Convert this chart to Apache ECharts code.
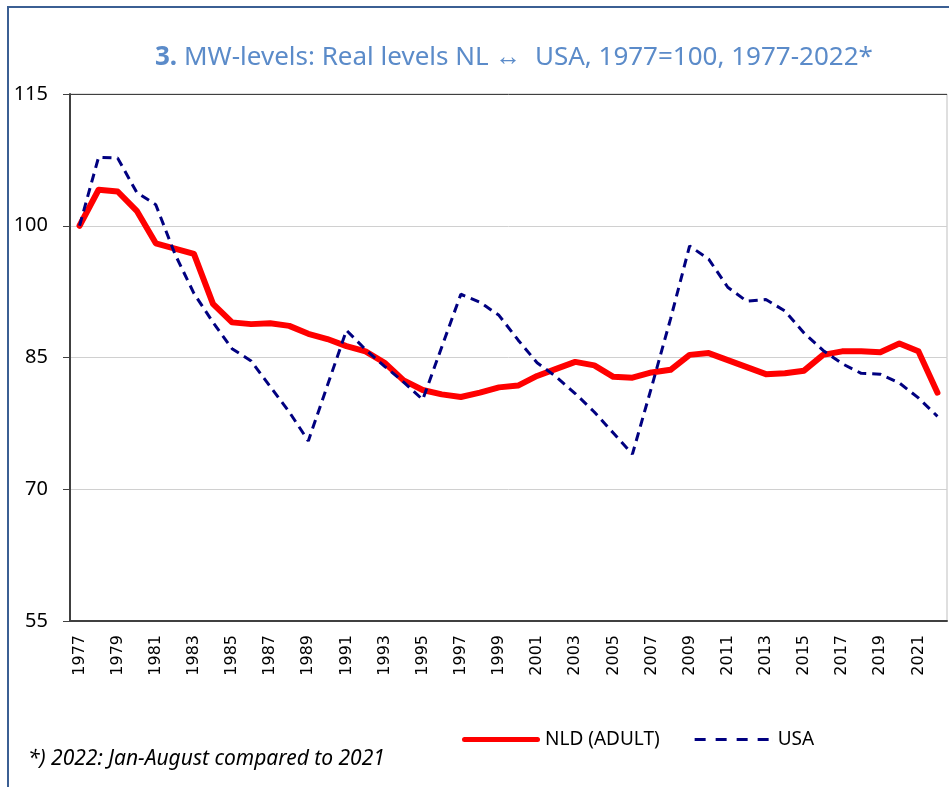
<!DOCTYPE html>
<html>
<head>
<meta charset="utf-8">
<title>MW-levels NL vs USA</title>
<script src="https://cdn.jsdelivr.net/npm/echarts@6/dist/echarts.min.js"></script>
<style>
  html, body { margin: 0; padding: 0; background: #fff; }
  #chart { width: 949px; height: 787px; }
</style>
</head>
<body>
<div id="chart"></div>
<script>
// data
const years = []
for (let y = 1977; y <= 2022; y++) years.push(String(y))

const nld = [
  100, 104.1, 103.9, 101.7, 98.0, 97.4, 96.8, 91.1, 89.0, 88.8,
  88.9, 88.6, 87.7, 87.1, 86.3, 85.7, 84.4, 82.4, 81.3, 80.8,
  80.5, 81.0, 81.6, 81.8, 82.9, 83.7, 84.5, 84.1, 82.8, 82.7,
  83.3, 83.6, 85.3, 85.5, 84.7, 83.9, 83.1, 83.2, 83.5, 85.3,
  85.7, 85.7, 85.6, 86.6, 85.7, 81.0
]
const usa = [
  100, 107.8, 107.7, 103.8, 102.4, 96.8, 92.3, 89.0, 86.0, 84.6,
  81.7, 78.8, 75.5, 81.8, 88.1, 85.9, 84.0, 82.2, 80.2, 86.2,
  92.2, 91.3, 89.8, 87.0, 84.4, 82.8, 80.9, 78.8, 76.4, 74.0,
  81.6, 89.4, 97.7, 96.2, 93.0, 91.4, 91.6, 90.3, 87.8, 85.8,
  84.3, 83.2, 83.1, 82.1, 80.4, 78.3
]
const yTicks = [55, 70, 85, 100, 115]

const titleColor = '#5b8bc9'

// legend icons: solid thick bar and four dashes
const solidIcon = 'path://M2.5,0h73a2.5,2.5 0 0 1 0,5h-73a2.5,2.5 0 0 1 0,-5z'
const dashIcon = 'path://M0,0h0.01v5h-0.01z M0,1h11v3h-11z M21,1h11v3h-11z M42,1h11v3h-11z M63,1h11v3h-11z M77.99,0h0.01v5h-0.01z'

const chart = echarts.init(document.getElementById('chart'))
chart.setOption({
  animation: false,
  title: {
    left: 150,
    top: 40,
    text: '{b|3.} MW-levels: Real levels NL \u2194  USA, 1977=100, 1977-2022*',
    textStyle: {
      fontFamily: 'Noto Sans',
      fontSize: 26,
      fontWeight: 'normal',
      color: titleColor,
      rich: {
        b: { fontFamily: 'Noto Sans', fontSize: 26, fontWeight: 'bold', color: titleColor }
      }
    }
  },
  legend: {
    left: 457,
    top: 725,
    itemWidth: 78,
    itemHeight: 5,
    itemGap: 35,
    textStyle: { fontFamily: 'Noto Sans', fontSize: 19, color: '#000' },
    data: [
      { name: 'NLD (ADULT)', icon: solidIcon, itemStyle: { color: '#ff0000' } },
      { name: 'USA', icon: dashIcon, itemStyle: { color: '#000080' } }
    ]
  },
  grid: {
    left: 70,
    right: 2,
    top: 94,
    bottom: 166,
    show: true,
    borderColor: '#bfbfbf',
    borderWidth: 1
  },
  xAxis: {
    type: 'category',
    data: years,
    boundaryGap: true,
    axisLine: { lineStyle: { color: '#404040', width: 2 } },
    axisTick: { inside: true, length: 8, interval: 1, lineStyle: { color: '#404040' } },
    axisLabel: {
      interval: 1,
      rotate: 90,
      margin: 14,
      fontFamily: 'DejaVu Sans',
      fontSize: 16,
      color: '#000'
    }
  },
  yAxis: {
    type: 'value',
    min: yTicks[0],
    max: yTicks[yTicks.length - 1],
    interval: 15,
    axisLine: { show: true, lineStyle: { color: '#404040', width: 2 } },
    axisTick: { show: true, length: 7, lineStyle: { color: '#404040' } },
    axisLabel: {
      margin: 22,
      fontFamily: 'Noto Sans',
      fontSize: 20,
      color: '#000'
    },
    splitLine: {
      lineStyle: { color: ['#d0d0d0', '#d0d0d0', '#d0d0d0', '#d0d0d0', '#404040'], width: 1 }
    }
  },
  series: [
    {
      name: 'NLD (ADULT)',
      type: 'line',
      data: nld,
      symbol: 'none',
      lineStyle: { color: '#ff0000', width: 6, cap: 'round', join: 'round' },
      itemStyle: { color: '#ff0000' },
      z: 3
    },
    {
      name: 'USA',
      type: 'line',
      data: usa,
      symbol: 'none',
      lineStyle: { color: '#000080', width: 3, type: [9, 6] },
      itemStyle: { color: '#000080' },
      z: 4
    }
  ],
  graphic: [
    {
      type: 'rect',
      shape: { x: 8, y: 7, width: 1000, height: 900 },
      style: { fill: 'none', stroke: '#3b5f93', lineWidth: 2 },
      silent: true
    },
    {
      type: 'text',
      left: 28,
      top: 749,
      style: {
        text: '*) 2022: Jan-August compared to 2021',
        font: 'italic 21px "Noto Sans"',
        fill: '#000'
      }
    }
  ]
})
</script>
</body>
</html>
